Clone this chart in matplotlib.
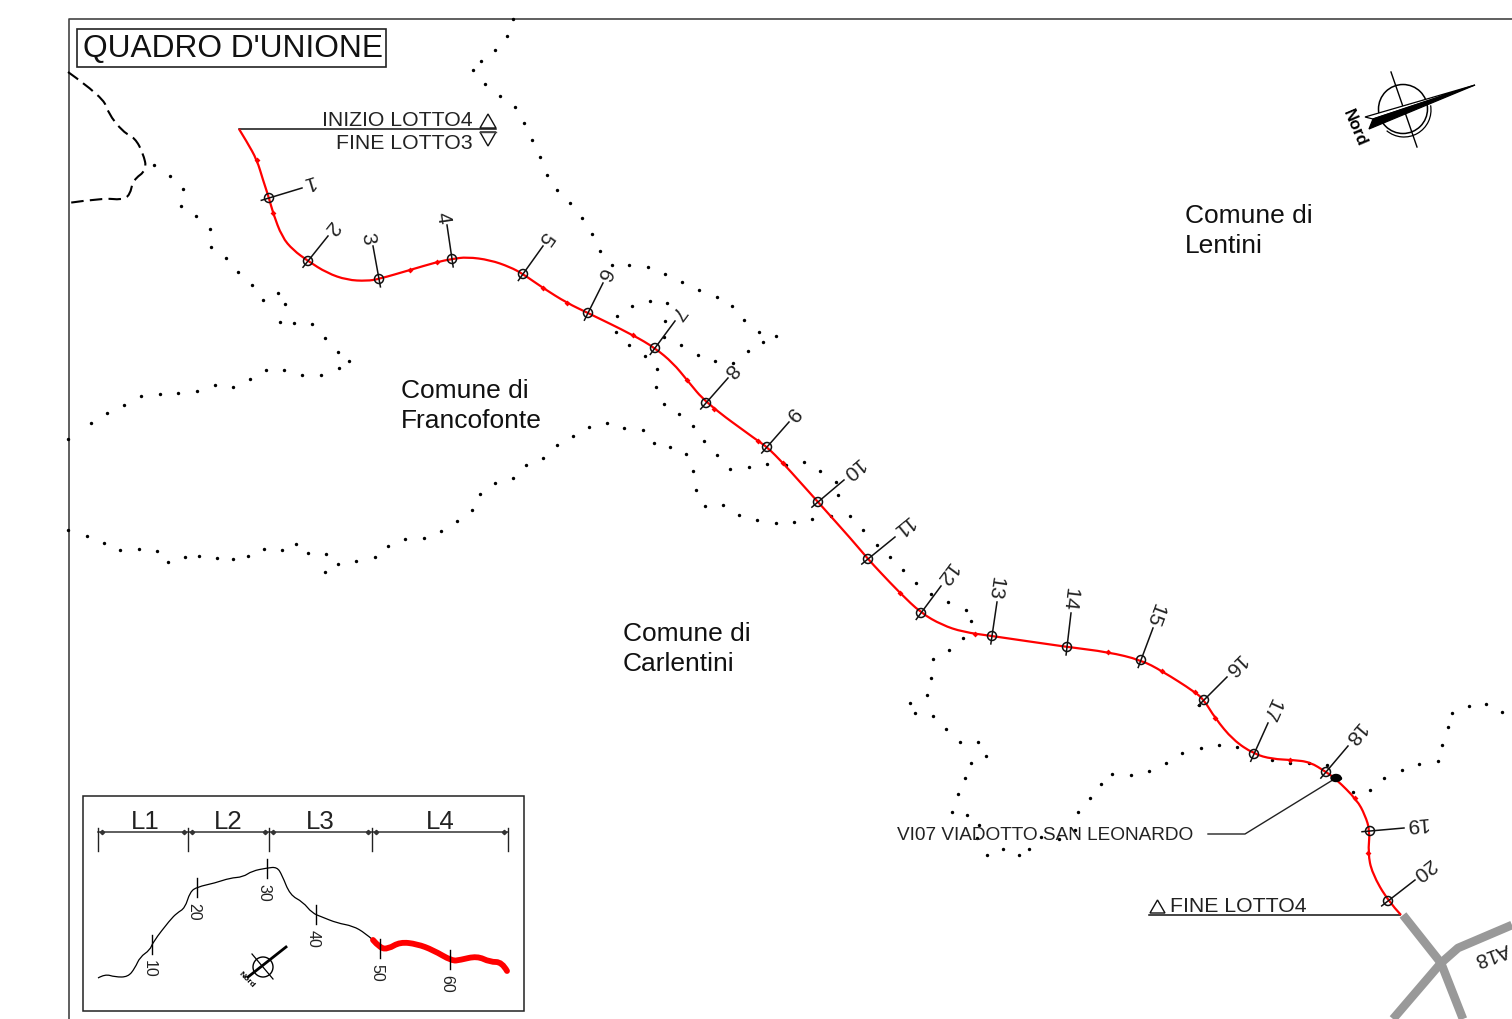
import numpy as np
from matplotlib import pyplot as plt
from matplotlib.path import Path
from matplotlib.patches import Circle, Polygon, Rectangle, Arc, Ellipse, PathPatch

plt.rcParams['font.family'] = ['Liberation Sans', 'DejaVu Sans']

# everything below in pixels
route = [(239, 129), (247, 142), (257, 160), (263, 180), (269, 198), (273, 213), (282, 237), (293, 250),
         (308, 261), (327, 273), (347, 280), (367, 281), (379, 279), (410, 270), (437, 262), (452, 259),
         (467, 257), (490, 260), (510, 267), (523, 274), (543, 288), (567, 303), (588, 313), (633, 335),
         (655, 348), (673, 363), (687, 380), (706, 403), (758, 441), (767, 447), (783, 463), (800, 482),
         (818, 502), (852, 540), (868, 559), (880, 572), (900, 593), (921, 613), (942, 625), (963, 632),
         (992, 636), (1067, 647), (1108, 652), (1141, 660), (1162, 671), (1195, 692), (1204, 700),
         (1215, 718), (1233, 740), (1254, 754), (1272, 759), (1293, 760), (1310, 762), (1326, 772),
         (1336, 779), (1357, 800), (1365, 815), (1370, 831), (1368, 853), (1372, 873), (1388, 901),
         (1401, 915)]
route_arrows = [(257, 160), (273, 213), (410, 270), (437, 262), (543, 288), (567, 303), (633, 335),
                (687, 380), (714, 409), (758, 441), (783, 463), (900, 593), (975, 634), (1108, 652),
                (1162, 671), (1195, 692), (1215, 718), (1290, 760), (1355, 798), (1368, 853)]

station_labels = [str(i) for i in range(1, 21)]
station_xy = [(269, 198), (308, 261), (379, 279), (452, 259), (523, 274), (588, 313), (655, 348),
              (706, 403), (767, 447), (818, 502), (868, 559), (921, 613), (992, 636), (1067, 647),
              (1141, 660), (1204, 700), (1254, 754), (1326, 772), (1370, 831), (1388, 901)]
station_tip = [(302, 188), (328, 236), (373, 246), (447, 225), (543, 246), (603, 283), (675, 321),
               (728, 378), (789, 422), (844, 480), (895, 537), (941, 586), (997, 602), (1071, 613),
               (1153, 628), (1227, 677), (1268, 723), (1348, 746), (1404, 828), (1415, 880)]

dots_north = [(513, 19), (507, 36), (495, 50), (481, 61), (473, 70), (485, 84), (500, 96), (515, 107),
              (524, 123), (532, 140), (540, 157), (547, 175), (557, 190), (570, 203), (582, 218),
              (592, 234), (600, 251), (612, 265), (629, 265), (648, 267), (665, 274), (682, 282),
              (699, 290), (717, 297), (732, 306), (744, 320), (759, 332), (776, 336), (763, 342),
              (748, 351), (733, 363), (715, 361), (698, 355), (681, 345), (664, 337), (665, 321),
              (667, 303), (650, 301), (632, 306), (617, 316), (616, 332), (629, 345), (645, 356),
              (657, 369), (656, 387), (664, 404), (679, 414), (693, 426), (704, 441), (717, 455),
              (730, 469), (749, 467), (767, 464), (786, 465), (804, 462), (820, 471), (836, 482),
              (838, 495), (850, 516), (863, 530), (877, 545), (890, 557), (903, 570), (916, 583),
              (931, 594), (948, 602), (966, 610), (971, 621), (963, 638), (949, 650), (933, 659),
              (931, 678), (927, 695), (910, 703), (915, 713), (933, 716), (946, 729), (960, 742),
              (978, 742), (986, 756), (971, 763), (965, 778), (958, 794), (952, 812), (967, 815),
              (979, 825), (977, 838), (987, 855), (1003, 849), (1019, 855), (1029, 849), (1041, 837),
              (1059, 839), (1075, 830), (1078, 812), (1090, 798), (1101, 784), (1112, 774),
              (1131, 775), (1149, 771), (1166, 763), (1182, 753), (1201, 748), (1219, 745),
              (1237, 747), (1272, 760), (1290, 763), (1309, 763), (1327, 765), (1340, 778),
              (1353, 792), (1370, 790), (1384, 778), (1402, 770), (1419, 764), (1438, 761),
              (1442, 745), (1448, 727), (1452, 713), (1469, 706), (1486, 704), (1502, 712)]
dots_loop = [(831, 516), (812, 519), (794, 522), (776, 523), (757, 520), (739, 515), (723, 505),
             (705, 506), (696, 490), (693, 471), (686, 454), (670, 447), (654, 443), (643, 430),
             (624, 428), (607, 423), (589, 427), (573, 436), (557, 445), (543, 458), (526, 465),
             (513, 478), (495, 483), (480, 494), (472, 510), (457, 521), (441, 531), (424, 538),
             (405, 539), (388, 546), (375, 557), (356, 561), (338, 564), (326, 554), (325, 572),
             (308, 553), (296, 544), (282, 550), (264, 549), (248, 556), (233, 559), (217, 558),
             (199, 556), (185, 557), (168, 562), (157, 551), (139, 549), (120, 550), (104, 543),
             (87, 536), (68, 530)]
dots_west = [(154, 165), (170, 176), (183, 189), (181, 206), (196, 216), (210, 229), (211, 247),
             (226, 258), (238, 272), (252, 285), (263, 300), (278, 293), (285, 304), (280, 322),
             (294, 323), (312, 324), (325, 338), (338, 352), (349, 361), (339, 368), (321, 375),
             (302, 375), (284, 370), (266, 370), (250, 379), (233, 387), (215, 385), (197, 391),
             (178, 393), (160, 394), (141, 396), (124, 405), (107, 413), (91, 423), (68, 439)]
dots_east = [(1199, 705)]

province_line = [(68, 72), (103, 97), (108, 113), (123, 132), (135, 138), (143, 153), (147, 170),
                 (133, 180), (130, 195), (122, 200), (103, 198), (68, 203)]
road_a = [(1403, 915), (1441, 963), (1463, 1019)]
road_b = [(1393, 1019), (1441, 963), (1458, 948), (1512, 925)]

comune_names = ['Comune di\nFrancofonte', 'Comune di\nLentini', 'Comune di\nCarlentini']
comune_xy = [(401, 405), (1185, 230), (623, 648)]

# key map in the lower left corner
lot_labels = ['L1', 'L2', 'L3', 'L4']
lot_bounds = [98, 188, 269, 372, 508]
profile = [(98, 978), (105, 974), (115, 977), (128, 977), (135, 968), (140, 957), (150, 950), (153, 942),
           (170, 920), (177, 913), (185, 908), (190, 892), (197, 887), (215, 883), (230, 878), (243, 877),
           (252, 871), (267, 868), (277, 867), (282, 875), (290, 895), (303, 902), (312, 913), (322, 917),
           (337, 923), (353, 926), (365, 933), (373, 940)]
profile_lot4 = [(373, 940), (380, 948), (388, 949), (400, 942), (417, 944), (433, 950), (452, 961),
                (460, 960), (477, 956), (490, 962), (502, 962), (507, 971)]
km_labels = ['10', '20', '30', '40', '50', '60']
km_x = [152, 197, 267, 316, 380, 450]
km_top = [935, 878, 859, 905, 939, 950]


def xy(points):
    pts = np.array(points, dtype=float)
    return pts[:, 0], pts[:, 1]


def smooth_path(points):
    # quadratic segments with the read points as controls, so the lines dont look faceted
    pts = np.array(points, dtype=float)
    verts = [pts[0]]
    codes = [Path.MOVETO]
    for i in range(1, len(pts) - 1):
        end = pts[-1] if i == len(pts) - 2 else (pts[i] + pts[i + 1]) / 2
        verts += [pts[i], end]
        codes += [Path.CURVE3, Path.CURVE3]
    return Path(verts, codes)


def draw_curve(ax, points, **style):
    ax.add_patch(PathPatch(smooth_path(points), fill=False, **style))


def draw_stations(ax):
    for name, st, tip in zip(station_labels, station_xy, station_tip):
        st = np.array(st, dtype=float)
        tip = np.array(tip, dtype=float)
        unit = (tip - st) / np.hypot(*(tip - st))
        tail = st - unit * 8
        ax.plot([tail[0], tip[0]], [tail[1], tip[1]], color='#111111', lw=1.1, zorder=4)
        ax.add_patch(Circle(st, 4.5, fill=False, ec='#111111', lw=1.1, zorder=4))
        # the numbers read towards the axis, y is flipped on this sheet
        angle = np.arctan2(unit[1], -unit[0])
        gap = 8 if len(name) == 1 else 13
        # va=center sits a bit high on the digits, pull them back across the line
        up = np.array([-np.sin(angle), -np.cos(angle)])
        pos = tip + unit * gap - up * 3.5
        ax.text(pos[0], pos[1], name, fontsize=15, color='#222222', rotation=np.degrees(angle),
                rotation_mode='anchor', ha='center', va='center')


def draw_compass(ax):
    ax.plot([1391, 1417], [72, 147], color='k', lw=1.0)
    ax.add_patch(Circle((1403, 109), 24.5, fill=False, ec='k', lw=1.1))
    ax.add_patch(Arc((1404, 110), 54, 54, theta1=-10, theta2=130, color='k', lw=0.9))
    ax.add_patch(Polygon([(1475, 85), (1365, 117), (1373, 119)], fc='white', ec='k', lw=0.9, zorder=3))
    ax.add_patch(Polygon([(1475, 85), (1373, 119), (1369, 129)], fc='k', ec='k', lw=0.9, zorder=3))
    ax.text(1355, 128, 'Nord', fontsize=12, fontweight='bold', rotation=-67, rotation_mode='anchor',
            ha='center', va='center', color='k')


def draw_keymap(ax):
    ax.add_patch(Rectangle((83, 796), 441, 215, fill=False, ec='#222222', lw=1.1))
    ax.plot([lot_bounds[0], lot_bounds[-1]], [832, 832], color='#333333', lw=1.1)
    for b in lot_bounds:
        ax.plot([b, b], [828, 851], color='#222222', lw=1.0)
    for i, name in enumerate(lot_labels):
        left, right = lot_bounds[i], lot_bounds[i + 1]
        ax.plot([left + 4, right - 4], [832, 832], ls='none', marker='D', ms=2.2, color='#333333')
        ax.text((left + right) / 2 + (2 if i == 0 else 0), 834, name, fontsize=18.5, color='#222222',
                ha='center', va='bottom')
    draw_curve(ax, profile, ec='k', lw=0.9)
    draw_curve(ax, profile_lot4, ec='#ff0000', lw=4.2, capstyle='round')
    for name, kx, top in zip(km_labels, km_x, km_top):
        ax.plot([kx, kx], [top, top + 19], color='k', lw=1.0, zorder=4)
        ax.text(kx - 3, top + 25, name, fontsize=11.5, color='#222222', rotation=-90, ha='center', va='top')
    # small north sign
    ax.add_patch(Circle((263, 967), 10, fill=False, ec='k', lw=1.0))
    ax.plot([252, 273], [954, 979], color='k', lw=0.9)
    ax.plot([286, 248], [947, 977], color='k', lw=2.0)
    ax.text(247, 980, 'Nord', fontsize=6, fontweight='bold', rotation=-45, ha='center', va='center', color='k')


def draw_sheet():
    fig = plt.figure(figsize=(15.12, 10.19), dpi=100)
    ax = fig.add_axes([0, 0, 1, 1])
    ax.set_xlim(0, 1512)
    ax.set_ylim(1019, 0)
    ax.axis('off')

    ax.plot([68.5, 68.5, 1512], [1019, 19, 19], color='#444444', lw=1.2)
    ax.add_patch(Rectangle((77, 29), 309, 38, fill=False, ec='#222222', lw=1.2))
    ax.text(83, 49, "QUADRO D'UNIONE", fontsize=22.8, color='#111111', ha='left', va='center')

    for dots in [dots_north, dots_loop, dots_west, dots_east]:
        x, y = xy(dots)
        ax.scatter(x, y, s=6, color='k', linewidths=0, zorder=2)

    draw_curve(ax, province_line, ec='k', lw=1.5, linestyle=(0, (6, 3)), zorder=2)

    for road in [road_a, road_b]:
        x, y = xy(road)
        ax.plot(x, y, color='#999999', lw=6.2, solid_capstyle='butt', zorder=2)
    ax.text(1492, 954, 'A18', fontsize=14.5, color='#222222', rotation=200, rotation_mode='anchor',
            ha='center', va='center')

    draw_curve(ax, route, ec='#ff0000', lw=1.6, zorder=3)
    x, y = xy(route_arrows)
    ax.scatter(x, y, s=9, marker='D', color='#ff0000', linewidths=0, zorder=3)
    draw_stations(ax)

    # start and end of the lot
    ax.plot([239, 496], [129, 129], color='#111111', lw=1.1)
    ax.plot([480, 496], [131.5, 131.5], color='#444444', lw=1.0)
    ax.add_patch(Polygon([(480, 128), (496, 128), (488, 114)], fill=False, ec='#111111', lw=1.0))
    ax.add_patch(Polygon([(480, 132), (496, 132), (488, 146)], fill=False, ec='#111111', lw=1.0))
    ax.text(473, 120, 'INIZIO LOTTO4', fontsize=15.3, color='#222222', ha='right', va='center')
    ax.text(473, 143, 'FINE LOTTO3', fontsize=15.3, color='#222222', ha='right', va='center')

    ax.plot([1149, 1400], [915, 915], color='#111111', lw=1.1)
    ax.add_patch(Polygon([(1150, 913), (1165, 913), (1157.5, 900)], fill=False, ec='#111111', lw=1.0))
    ax.text(1170, 906, 'FINE LOTTO4', fontsize=15.3, color='#222222', ha='left', va='center')

    # viaduct note
    ax.text(897, 835, 'VI07 VIADOTTO SAN LEONARDO', fontsize=13.65, color='#222222', ha='left', va='center')
    ax.plot([1208, 1245, 1336], [834, 834, 778], color='#222222', lw=1.0)
    ax.add_patch(Ellipse((1336, 778), 10, 7, fc='k', ec='k', zorder=5))

    for name, (cx, cy) in zip(comune_names, comune_xy):
        ax.text(cx, cy + 1, name, fontsize=19, color='#111111', ha='left', va='center', linespacing=1.33)

    draw_compass(ax)
    draw_keymap(ax)
    fig.savefig('out.png', dpi=100, facecolor='white')


if __name__ == '__main__':
    draw_sheet()
